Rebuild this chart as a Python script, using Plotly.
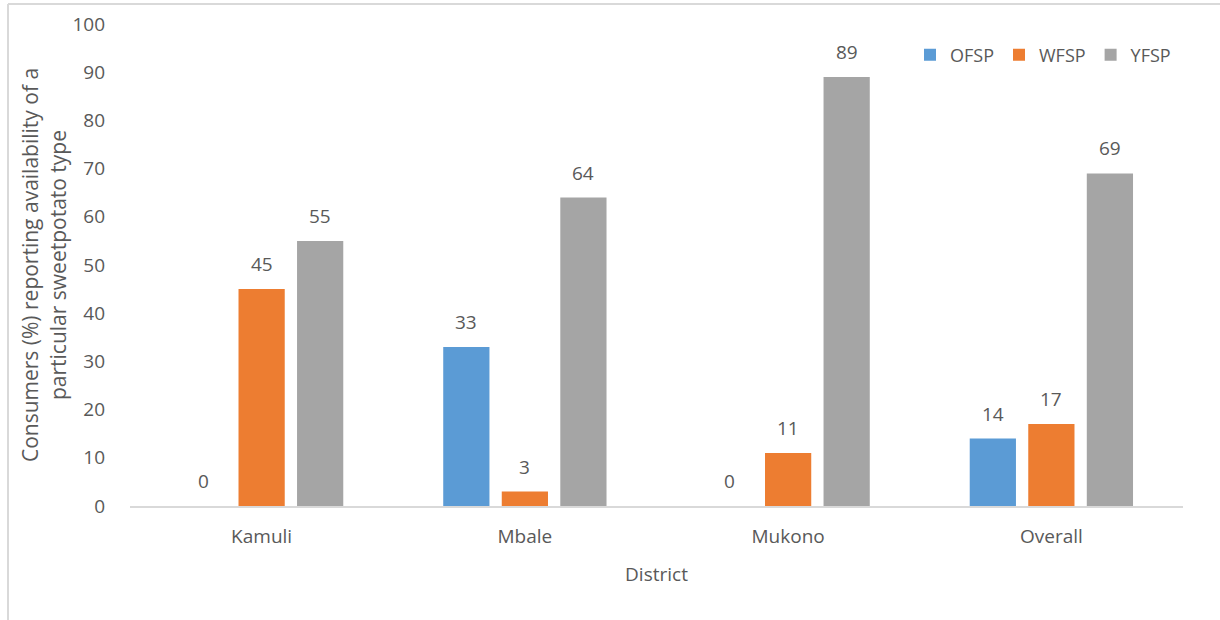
import plotly.graph_objects as go

districts = ["Kamuli", "Mbale", "Mukono", "Overall"]
ofsp = [0, 33, 0, 14]
wfsp = [45, 3, 11, 17]
yfsp = [55, 64, 89, 69]

series = [("OFSP", ofsp, "#5B9BD5"), ("WFSP", wfsp, "#ED7D31"), ("YFSP", yfsp, "#A5A5A5")]

W, H = 1220, 620
L, R, T, B = 130, 37, 24, 114
pw, ph = W - L - R, H - T - B
BARGAP, GROUPGAP = 0.333, 0.21

def px(x):
    return (x - L) / pw

def py(y):
    return (H - B - y) / ph

font_family = "Open Sans, Noto Sans, sans-serif"
txt = "#595959"

fig = go.Figure()
for name, vals, color in series:
    fig.add_trace(go.Bar(
        name=name, x=districts, y=vals, marker_color=color,
        marker_line_width=0, cliponaxis=False,
    ))

# value labels centred a fixed distance above each bar
slot = pw / len(districts) * (1 - BARGAP) / len(series)
annotations = []
for i, (name, vals, color) in enumerate(series):
    offset = (i - (len(series) - 1) / 2) * slot
    for d, v in zip(districts, vals):
        annotations.append(dict(
            x=d, y=v, xref="x", yref="y", text=str(v), showarrow=False,
            xshift=offset, yshift=25, yanchor="middle",
            font=dict(size=19, color=txt, family=font_family),
        ))

fig.update_layout(
    width=W, height=H,
    margin=dict(l=L, r=R, t=T, b=B),
    plot_bgcolor="white", paper_bgcolor="white",
    barmode="group", bargap=BARGAP, bargroupgap=GROUPGAP,
    font=dict(family=font_family, color=txt, size=19),
    legend=dict(orientation="h", x=px(1176), xanchor="right", y=py(55), yanchor="middle",
                font=dict(size=18, color=txt), itemwidth=30, bgcolor="rgba(0,0,0,0)"),
    xaxis=dict(
        automargin=False,
        title=dict(text="District", font=dict(size=19, color=txt), standoff=20),
        showline=True, linecolor="#D9D9D9", linewidth=2, ticks="",
        tickfont=dict(size=19, color=txt), ticklabelstandoff=12,
    ),
    yaxis=dict(
        automargin=False,
        range=[0, 100], dtick=10, showgrid=False, zeroline=False, showline=False,
        tickfont=dict(size=19, color=txt), ticks="", ticklabelstandoff=24,
        title=dict(text="Consumers (%) reporting availability of a<br>particular sweetpotato type",
                   font=dict(size=21, color=txt), standoff=0),
    ),
    annotations=annotations,
    shapes=[
        dict(type="line", xref="paper", yref="paper", x0=px(8), x1=px(1220), y0=py(4), y1=py(4),
             line=dict(color="#D9D9D9", width=2)),
        dict(type="line", xref="paper", yref="paper", x0=px(8), x1=px(8), y0=py(4), y1=py(620),
             line=dict(color="#D9D9D9", width=2)),
    ],
)

fig.write_html("out.html")
